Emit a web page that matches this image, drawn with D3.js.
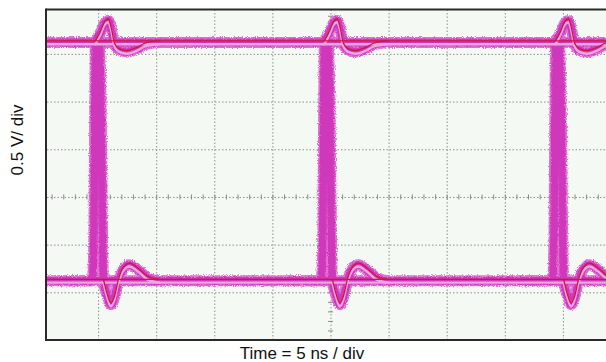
<!DOCTYPE html>
<html>
<head>
<meta charset="utf-8">
<script src="https://cdn.jsdelivr.net/npm/d3@7"></script>
<style>
  body { margin: 0; background: #fff; }
  svg { display: block; font-family: "Liberation Sans", Arial, sans-serif; }
</style>
</head>
<body>
<svg id="chart" width="606" height="362"></svg>
<script>
// grid positions (5 ns/div, 0.5 V/div)
const xGrid = [-25, -20, -15, -10, -5, 0, 5, 10, 15, 20, 25];
const yGrid = [-1.5, -1, -0.5, 0, 0.5, 1, 1.5, 2];

// levels (V)
const highLevel = 1.62;
const lowLevel = -0.88;

// edge crossings (ns)
const edgeTimes = [-19.9, -0.2, 19.7];

// rising trace around an edge: [dt ns, V]
const riseShape = [
  [-3.4, -0.88], [-0.6, -0.88], [-0.46, -0.4], [-0.34, 1.62],
  [0.1, 1.72], [0.45, 1.82], [0.78, 1.85], [1.05, 1.75],
  [1.3, 1.60], [1.7, 1.54], [2.4, 1.52], [3.2, 1.55],
  [4.0, 1.60], [5.2, 1.62]
];
// falling trace around an edge
const fallShape = [
  [-3.4, 1.62], [-0.02, 1.62], [0.12, 1.2], [0.36, -0.88],
  [0.7, -1.04], [1.0, -1.13], [1.3, -1.06], [1.65, -0.88],
  [2.1, -0.75], [2.6, -0.71], [3.3, -0.76], [4.2, -0.85],
  [5.2, -0.88]
];

const svg = d3.select('#chart');
const x = d3.scaleLinear().domain([-25, 25]).range([40, 621]);
const y = d3.scaleLinear().domain([-1.5, 2]).range([340, 6.2]);

const pLeft = 46, pRight = 606, pTop = 9.5, pBottom = 340;

const defs = svg.append('defs');
defs.append('clipPath').attr('id', 'clip')
  .append('rect').attr('x', pLeft).attr('y', pTop)
  .attr('width', pRight - pLeft).attr('height', pBottom - pTop);

const fuzz = defs.append('filter').attr('id', 'fuzz')
  .attr('filterUnits', 'userSpaceOnUse')
  .attr('x', 0).attr('y', 0).attr('width', 606).attr('height', 362);
fuzz.append('feTurbulence').attr('type', 'fractalNoise')
  .attr('baseFrequency', 0.9).attr('numOctaves', 2).attr('seed', 4).attr('result', 'n');
fuzz.append('feDisplacementMap').attr('in', 'SourceGraphic').attr('in2', 'n')
  .attr('scale', 4).attr('xChannelSelector', 'R').attr('yChannelSelector', 'G');

// background
svg.append('rect').attr('x', pLeft).attr('y', pTop)
  .attr('width', pRight - pLeft).attr('height', pBottom - pTop)
  .attr('fill', '#f4f9f3');

const plot = svg.append('g').attr('clip-path', 'url(#clip)');

// grid
const gx = plot.append('g')
  .attr('transform', 'translate(0,' + y(-1.5) + ')')
  .call(d3.axisBottom(x).tickValues(xGrid).tickSize(-(y(-1.5) - y(2))).tickFormat(''));
const gy = plot.append('g')
  .attr('transform', 'translate(' + x(-25) + ',0)')
  .call(d3.axisLeft(y).tickValues(yGrid).tickSize(-(x(25) - x(-25))).tickFormat(''));
[gx, gy].forEach(g => {
  g.select('.domain').remove();
  g.selectAll('line').attr('stroke', '#8f8f8f').attr('stroke-dasharray', '1.5,2');
});

// minor ticks on centre lines
const xMinor = d3.range(-25, 25.001, 1);
const yMinor = d3.range(-1.5, 2.0001, 0.1);
const mx = plot.append('g')
  .attr('transform', 'translate(0,' + (y(0) - 2.5) + ')')
  .call(d3.axisBottom(x).tickValues(xMinor).tickSize(5).tickFormat(''));
const my = plot.append('g')
  .attr('transform', 'translate(' + (x(0) + 2.5) + ',0)')
  .call(d3.axisLeft(y).tickValues(yMinor).tickSize(5).tickFormat(''));
[mx, my].forEach(g => {
  g.select('.domain').remove();
  g.selectAll('line').attr('stroke', '#8a8a8a').attr('stroke-width', 1);
});

// traces
const line = d3.line().x(d => x(d[0])).y(d => y(d[1])).curve(d3.curveMonotoneX);
const levels = [
  [[-25, highLevel], [25, highLevel]],
  [[-25, lowLevel], [25, lowLevel]]
];
const traces = levels.slice();
const cores = levels.slice();
edgeTimes.forEach(t => {
  traces.push(riseShape.map(p => [t + p[0], p[1]]));
  traces.push(fallShape.map(p => [t + p[0], p[1]]));
  // the bright core only shows on the settled parts, not on the edges
  cores.push(riseShape.slice(3).map(p => [t + p[0], p[1]]));
  cores.push(fallShape.slice(3).map(p => [t + p[0], p[1]]));
});

const layers = [
  { color: '#e070d2', width: 11, dy: 0, filter: true, data: traces },
  { color: '#cf38bb', width: 7.5, dy: 0, filter: true, data: traces },
  { color: '#eaa8e2', width: 2.4, dy: 1.8, filter: false, data: cores },
  { color: '#d0163e', width: 1.3, dy: -1.5, filter: false, data: cores }
];
layers.forEach(L => {
  const g = plot.append('g').attr('transform', 'translate(0,' + L.dy + ')');
  if (L.filter) g.attr('filter', 'url(#fuzz)');
  g.selectAll('path').data(L.data).enter().append('path')
    .attr('d', line)
    .attr('fill', 'none')
    .attr('stroke', L.color)
    .attr('stroke-width', L.width)
    .attr('stroke-linejoin', 'round')
    .attr('stroke-linecap', 'round');
});

// frame
svg.append('line').attr('x1', pLeft).attr('x2', pRight).attr('y1', pTop).attr('y2', pTop)
  .attr('stroke', '#2a2a2a').attr('stroke-width', 2);
svg.append('line').attr('x1', pLeft).attr('x2', pRight).attr('y1', pBottom).attr('y2', pBottom)
  .attr('stroke', '#2a2a2a').attr('stroke-width', 2);
svg.append('line').attr('x1', pLeft).attr('x2', pLeft).attr('y1', pTop - 1).attr('y2', pBottom + 1)
  .attr('stroke', '#2a2a2a').attr('stroke-width', 2);

// labels
svg.append('text')
  .attr('transform', 'translate(23,140) rotate(-90)')
  .attr('text-anchor', 'middle')
  .attr('font-size', 17)
  .attr('fill', '#111')
  .text('0.5 V/ div');
svg.append('text')
  .attr('x', 302).attr('y', 359)
  .attr('text-anchor', 'middle')
  .attr('font-size', 17)
  .attr('fill', '#111')
  .text('Time = 5 ns / div');
</script>
</body>
</html>
